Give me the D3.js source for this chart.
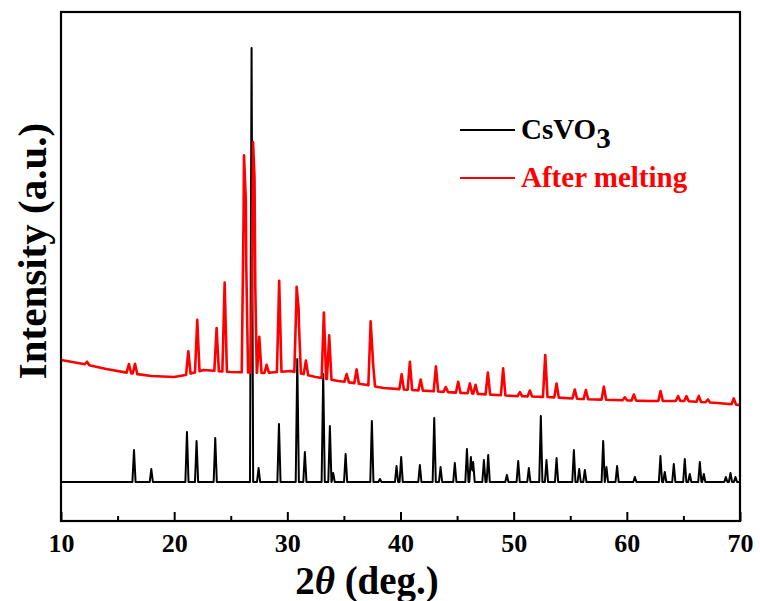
<!DOCTYPE html>
<html>
<head>
<meta charset="utf-8">
<script src="https://cdn.jsdelivr.net/npm/d3@7"></script>
<style>
    body { margin: 0; background: #fff; }
    svg { display: block; }
    text { font-family: "Liberation Serif", "Times New Roman", serif; font-weight: bold; }
</style>
</head>
<body>
<svg id="chart"></svg>
<script>
// 2theta range and ticks
const xDomain = [10, 70];
const majorTicks = [10, 20, 30, 40, 50, 60, 70];
const minorTicks = [15, 25, 35, 45, 55, 65];

// CsVO3 reference pattern: flat baseline, peaks as [2theta, height]
const csvoBaseline = 39;
const csvoPeaks = [
    [16.45, 32], [17.98, 13], [21.13, 50], [21.98, 41], [23.63, 44], [26.84, 434], [27.46, 14],
    [29.26, 58], [30.88, 123], [31.55, 30], [33.17, 108], [33.76, 56], [34.05, 9], [35.15, 28],
    [37.47, 61], [38.18, 3], [39.65, 16], [40.06, 25], [41.71, 17], [42.98, 64], [43.54, 15],
    [44.8, 19], [45.87, 33], [46.22, 25], [46.42, 20], [47.37, 22], [47.75, 27], [49.4, 7],
    [50.4, 21], [51.34, 14], [52.4, 66], [52.9, 22], [53.79, 24], [55.32, 32], [55.79, 13],
    [56.29, 12], [57.91, 41], [58.2, 15], [59.14, 16], [60.71, 5], [62.97, 26], [63.35, 10],
    [64.15, 18], [65.12, 23], [65.56, 8], [66.45, 20], [66.8, 8], [68.75, 5], [69.16, 9], [69.6, 5]
];

// After melting: sloping background as [2theta, level], peaks as [2theta, height above it]
const meltBackground = [
    [10, 161], [12, 157], [14, 152], [16, 148], [18, 145], [20, 144], [21, 146], [22.6, 151],
    [25, 149], [28, 148], [30.3, 150], [32.5, 144], [34.5, 140], [36.5, 137], [38.5, 133],
    [41, 131], [44, 129], [47, 127], [50, 125], [53, 124], [56, 122], [59, 121], [62, 120],
    [65, 120], [68, 118], [70, 116]
];
const meltPeaks = [
    [12.3, 3], [16.0, 9], [16.54, 10], [21.25, 23], [22.04, 52], [23.75, 43], [24.46, 89],
    [26.17, 190], [26.33, 135], [26.97, 185], [27.1, 130], [27.52, 36], [28.17, 8], [29.28, 91],
    [30.82, 80], [31.0, 56], [31.64, 14], [33.23, 66], [33.7, 44], [35.24, 8], [36.12, 14],
    [37.36, 63], [37.55, 26], [40.1, 15], [40.83, 28], [41.78, 11], [43.13, 25], [44.0, 5],
    [45.1, 11], [46.13, 10], [46.63, 9], [47.72, 22], [49.07, 27], [50.55, 4], [51.43, 6],
    [52.79, 42], [53.79, 14], [55.4, 9], [56.38, 9], [57.97, 13], [59.82, 3], [60.62, 6],
    [62.98, 10], [64.53, 5], [65.27, 5], [66.36, 6], [67.16, 3], [69.45, 6]
];

const legendItems = [
    {label: 'CsVO', sub: '3', color: '#000000'},
    {label: 'After melting', sub: '', color: '#ff0000'}
];

const config = {
    width: 760,
    height: 601,
    plot: {left: 61, right: 740, top: 12, bottom: 521},
    csvoHalfWidth: 0.14,
    meltHalfWidth: 0.2
};

const svg = d3.select('#chart')
    .attr('width', config.width)
    .attr('height', config.height);

svg.append('rect')
    .attr('width', config.width)
    .attr('height', config.height)
    .attr('fill', '#fff');

const x = d3.scaleLinear()
    .domain(xDomain)
    .range([config.plot.left, config.plot.right]);

// intensity in arbitrary units
const y = d3.scaleLinear()
    .domain([0, config.plot.bottom - config.plot.top])
    .range([config.plot.bottom, config.plot.top]);

// build a trace: background + sum of narrow triangular peaks, evaluated at every breakpoint
function buildTrace(peaks, background, hw) {
    const xs = new Set([xDomain[0], xDomain[1]]);
    peaks.forEach(p => { xs.add(p[0] - hw); xs.add(p[0]); xs.add(p[0] + hw); });
    if (Array.isArray(background)) background.forEach(b => xs.add(b[0]));
    const bg = Array.isArray(background)
        ? d3.scaleLinear().domain(background.map(b => b[0])).range(background.map(b => b[1]))
        : () => background;
    return Array.from(xs)
        .filter(v => v >= xDomain[0] && v <= xDomain[1])
        .sort((a, b) => a - b)
        .map(t => {
            let v = bg(t);
            peaks.forEach(p => {
                const d = Math.abs(t - p[0]);
                if (d < hw) v += p[1] * (1 - d / hw);
            });
            return [t, v];
        });
}

const line = d3.line()
    .x(d => x(d[0]))
    .y(d => y(d[1]));

svg.append('defs').append('clipPath').attr('id', 'plot-clip')
    .append('rect')
    .attr('x', config.plot.left)
    .attr('y', config.plot.top)
    .attr('width', config.plot.right - config.plot.left)
    .attr('height', config.plot.bottom - config.plot.top);

const traces = svg.append('g').attr('clip-path', 'url(#plot-clip)');

traces.append('path')
    .datum(buildTrace(csvoPeaks, csvoBaseline, config.csvoHalfWidth))
    .attr('d', line)
    .attr('fill', 'none')
    .attr('stroke', '#000')
    .attr('stroke-width', 2)
    .attr('stroke-linejoin', 'round');

traces.append('path')
    .datum(buildTrace(meltPeaks, meltBackground, config.meltHalfWidth))
    .attr('d', line)
    .attr('fill', 'none')
    .attr('stroke', '#ff0000')
    .attr('stroke-width', 2.6)
    .attr('stroke-linejoin', 'round');

// x axis: inward major and minor ticks
const xAxis = svg.append('g')
    .attr('transform', `translate(0,${config.plot.bottom})`)
    .call(d3.axisBottom(x).tickValues(majorTicks).tickSize(-9).tickPadding(13).tickFormat(d3.format('d')));
xAxis.select('.domain').remove();
xAxis.selectAll('line').attr('stroke-width', 2);
xAxis.selectAll('text')
    .attr('font-size', 26)
    .attr('font-family', '"Liberation Serif", serif')
    .attr('font-weight', 'bold')
    .attr('fill', '#000');

const xMinor = svg.append('g')
    .attr('transform', `translate(0,${config.plot.bottom})`)
    .call(d3.axisBottom(x).tickValues(minorTicks).tickSize(-5).tickFormat(''));
xMinor.select('.domain').remove();
xMinor.selectAll('line').attr('stroke-width', 2);

// frame
svg.append('rect')
    .attr('x', config.plot.left)
    .attr('y', config.plot.top)
    .attr('width', config.plot.right - config.plot.left)
    .attr('height', config.plot.bottom - config.plot.top)
    .attr('fill', 'none')
    .attr('stroke', '#000')
    .attr('stroke-width', 2.2);

// axis titles
const xTitle = svg.append('text')
    .attr('x', 367)
    .attr('y', 594)
    .attr('text-anchor', 'middle')
    .attr('font-size', 39);
xTitle.append('tspan').text('2');
xTitle.append('tspan').attr('font-style', 'italic').text('θ');
xTitle.append('tspan').text(' (deg.)');

svg.append('text')
    .attr('transform', 'translate(46,251) rotate(-90)')
    .attr('text-anchor', 'middle')
    .attr('font-size', 41)
    .text('Intensity (a.u.)');

// legend
const legend = svg.append('g').attr('transform', 'translate(460,130)');
const legendRows = legend.selectAll('g')
    .data(legendItems)
    .join('g')
    .attr('transform', (d, i) => `translate(0,${i * 48})`);

legendRows.append('line')
    .attr('x1', 0).attr('x2', 55)
    .attr('stroke', d => d.color)
    .attr('stroke-width', 2.2);

const legendText = legendRows.append('text')
    .attr('x', 61)
    .attr('y', 9)
    .attr('font-size', 29)
    .attr('fill', d => d.color);
legendText.append('tspan').text(d => d.label);
legendText.filter(d => d.sub).append('tspan')
    .attr('dy', 9)
    .text(d => d.sub);
</script>
</body>
</html>
